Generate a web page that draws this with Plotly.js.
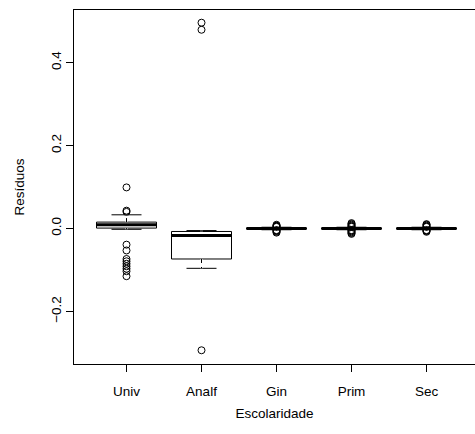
<!DOCTYPE html>
<html>
<head>
<meta charset="utf-8">
<script src="https://cdn.plot.ly/plotly-3.0.1.min.js"></script>
<style>html,body{margin:0;padding:0;overflow:hidden;background:#fff;}#plot{width:475px;height:434px;}</style>
</head>
<body>
<div id="plot"></div>
<script>
const categories = ['Univ', 'Analf', 'Gin', 'Prim', 'Sec'];
const positions = [1, 2, 3, 4, 5];
const q1 = [0.001, -0.0735, -0.001, -0.001, -0.001];
const medians = [0.0089, -0.0168, 0.0, 0.0, 0.0];
const q3 = [0.0154, -0.0072, 0.001, 0.001, 0.001];
const lowerWhisker = [-0.002, -0.096, -0.003, -0.003, -0.003];
const upperWhisker = [0.033, -0.005, 0.003, 0.003, 0.003];
const outliersUniv = [0.099, 0.043, 0.040, -0.039, -0.053, -0.0735, -0.079, -0.085, -0.091, -0.097, -0.103, -0.115];
const outliersAnalf = [0.496, 0.479, -0.2935];
const outliersGin = [0.009, 0.007, 0.006, 0.005, 0.004, -0.004, -0.005, -0.006, -0.008, -0.010];
const outliersPrim = [0.013, 0.011, 0.009, 0.007, 0.005, 0.004, -0.004, -0.005, -0.007, -0.009, -0.011, -0.013];
const outliersSec = [0.0105, 0.009, 0.007, 0.005, 0.004, -0.004, -0.005, -0.006, -0.008];
const outliers = [outliersUniv, outliersAnalf, outliersGin, outliersPrim, outliersSec];

const boxWidth = 0.8;
const traces = [];
categories.forEach((c, i) => {
  traces.push({
    type: 'box', x: [positions[i]], q1: [q1[i]], median: [medians[i]], q3: [q3[i]],
    lowerfence: [lowerWhisker[i]], upperfence: [upperWhisker[i]],
    width: boxWidth, whiskerwidth: 0.5, boxpoints: false,
    fillcolor: 'rgba(255,255,255,0)', line: {color: 'black', width: 1},
    name: c, hoverinfo: 'skip', showlegend: false
  });
});
// dashed whiskers (R style)
const wx = [], wy = [];
categories.forEach((c, i) => {
  wx.push(positions[i], positions[i], null, positions[i], positions[i], null);
  wy.push(q3[i], upperWhisker[i], null, q1[i], lowerWhisker[i], null);
});
traces.push({type: 'scatter', mode: 'lines', x: wx, y: wy, line: {color: 'white', width: 2}, hoverinfo: 'skip', showlegend: false});
traces.push({type: 'scatter', mode: 'lines', x: wx, y: wy, line: {color: 'black', width: 1, dash: '4px,4px'}, hoverinfo: 'skip', showlegend: false});
// thick medians
const mx = [], my = [];
categories.forEach((c, i) => {
  mx.push(positions[i] - boxWidth / 2, positions[i] + boxWidth / 2, null);
  my.push(medians[i], medians[i], null);
});
traces.push({type: 'scatter', mode: 'lines', x: mx, y: my, line: {color: 'black', width: 3}, hoverinfo: 'skip', showlegend: false});
// outliers
const ox = [], oy = [];
outliers.forEach((arr, i) => arr.forEach(v => { ox.push(positions[i]); oy.push(v); }));
traces.push({type: 'scatter', mode: 'markers', x: ox, y: oy,
  marker: {symbol: 'circle-open', size: 7, color: 'black', line: {width: 1, color: 'black'}},
  hoverinfo: 'skip', showlegend: false});

const font = {family: 'Liberation Sans, Arial, sans-serif', size: 13.5, color: 'black'};
const layout = {
  width: 475, height: 434, autosize: false,
  margin: {l: 74, r: 0, t: 10, b: 70},
  paper_bgcolor: 'white', plot_bgcolor: 'white', font: font, showlegend: false,
  xaxis: {range: [0.3, 5.6467], tickvals: positions, ticktext: categories,
    ticks: 'outside', ticklen: 7, tickcolor: 'black', showline: true, mirror: true,
    linecolor: 'black', linewidth: 1, showgrid: false, zeroline: false, tickfont: font,
    ticklabelstandoff: 8,
    title: {text: 'Escolaridade', font: font, standoff: 10}},
  yaxis: {range: [-0.3266, 0.5266], tickvals: [-0.2, 0, 0.2, 0.4], tickformat: '.1f',
    ticks: 'outside', ticklen: 7, tickcolor: 'black', showline: true, mirror: false,
    linecolor: 'black', linewidth: 1, showgrid: false, zeroline: false, tickangle: -90,
    tickfont: font, title: {text: 'Resíduos', font: font, standoff: 20}}
};
Plotly.newPlot('plot', traces, layout, {staticPlot: true, displayModeBar: false});
</script>
</body>
</html>
